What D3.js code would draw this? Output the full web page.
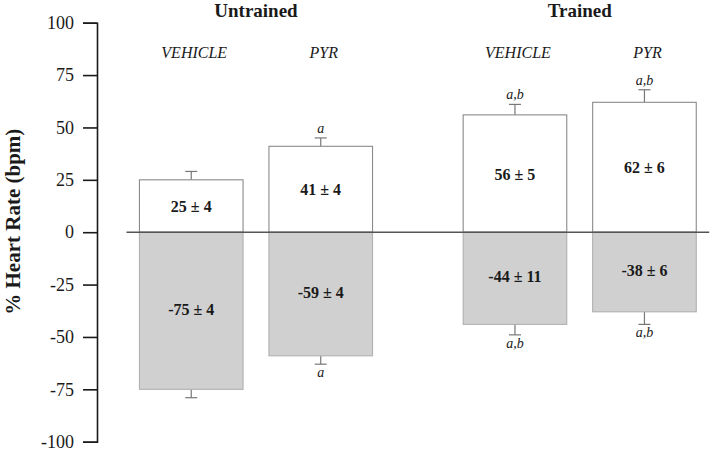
<!DOCTYPE html>
<html>
<head>
<meta charset="utf-8">
<script src="https://cdn.jsdelivr.net/npm/d3@7"></script>
<style>
  body { margin: 0; background: #fff; }
  text { font-family: "Liberation Serif", "Times New Roman", serif; fill: #1a1a1a; }
</style>
</head>
<body>
<div class="chart"></div>
<script>
// groups and treatments
const groups = ['Untrained', 'Trained'];
const treatments = ['VEHICLE', 'PYR'];

// values in the order Untrained VEHICLE, Untrained PYR, Trained VEHICLE, Trained PYR
const upValues = [25, 41, 56, 62];
const upErrors = [4, 4, 5, 6];
const downValues = [-75, -59, -44, -38];
const downErrors = [4, 4, 11, 6];       // as printed in the bar labels
const downErrorBars = [4, 4, 5, 6];     // as drawn by the whiskers
const upSig = ['', 'a', 'a,b', 'a,b'];
const downSig = ['', 'a', 'a,b', 'a,b'];
const yTicks = [100, 75, 50, 25, 0, -25, -50, -75, -100];

const svgWidth = 711, svgHeight = 450;

const svg = d3.select(".chart")
  .append("svg")
  .attr("width", svgWidth)
  .attr("height", svgHeight);

// scales
const yScale = d3.scaleLinear().domain([-100, 100]).range([441.7, 22.7]);
const xGroup = d3.scaleBand().domain(groups).range([126.5, 709.2]).paddingInner(0.2).paddingOuter(0);
const xTreat = d3.scaleBand().domain(treatments).range([0, xGroup.bandwidth()]).paddingInner(0.2).paddingOuter(0.1);

// build rows from the arrays
const rows = [];
groups.forEach((g, gi) => {
  treatments.forEach((t, ti) => {
    const i = gi * 2 + ti;
    rows.push({
      group: g, treat: t,
      up: upValues[i], upErr: upErrors[i],
      down: downValues[i], downErr: downErrors[i], downBar: downErrorBars[i],
      upSig: upSig[i], downSig: downSig[i]
    });
  });
});
const xLeft = d => xGroup(d.group) + xTreat(d.treat);
const xMid = d => xLeft(d) + xTreat.bandwidth() / 2;

// y axis
const leftAxis = d3.axisLeft(yScale)
  .tickValues(yTicks)
  .tickFormat(d => String(d))
  .tickSize(14)
  .tickPadding(9);
const yAxis = svg.append("g")
  .attr("transform", "translate(97,0)")
  .call(leftAxis);
yAxis.select(".domain").attr("stroke", "#1a1a1a").attr("stroke-width", 1.6);
yAxis.selectAll(".tick line").attr("stroke", "#1a1a1a").attr("stroke-width", 1.6);
yAxis.selectAll(".tick text")
  .attr("font-family", "Liberation Serif, serif")
  .attr("font-size", 18)
  .attr("fill", "#1a1a1a");

// y title
svg.append("text")
  .attr("transform", `translate(20, ${yScale(5)}) rotate(-90)`)
  .attr("text-anchor", "middle")
  .attr("font-size", 21)
  .attr("font-weight", "bold")
  .text("% Heart Rate (bpm)");

// error bars (drawn first so bars sit over the stems)
const errGroup = svg.append("g").attr("stroke", "#777").attr("stroke-width", 1.2);
rows.forEach(d => {
  const cx = xMid(d);
  errGroup.append("line")
    .attr("x1", cx).attr("x2", cx)
    .attr("y1", yScale(d.up)).attr("y2", yScale(d.up + d.upErr));
  errGroup.append("line")
    .attr("x1", cx - 6).attr("x2", cx + 6)
    .attr("y1", yScale(d.up + d.upErr)).attr("y2", yScale(d.up + d.upErr));
  errGroup.append("line")
    .attr("x1", cx).attr("x2", cx)
    .attr("y1", yScale(d.down)).attr("y2", yScale(d.down - d.downBar));
  errGroup.append("line")
    .attr("x1", cx - 6).attr("x2", cx + 6)
    .attr("y1", yScale(d.down - d.downBar)).attr("y2", yScale(d.down - d.downBar));
});

// positive bars
svg.append("g").selectAll("rect")
  .data(rows).enter()
  .append("rect")
  .attr("x", xLeft)
  .attr("width", xTreat.bandwidth())
  .attr("y", d => yScale(d.up))
  .attr("height", d => yScale(0) - yScale(d.up))
  .attr("fill", "#fff")
  .attr("stroke", "#8a8a8a")
  .attr("stroke-width", 1.1);

// negative bars
svg.append("g").selectAll("rect")
  .data(rows).enter()
  .append("rect")
  .attr("x", xLeft)
  .attr("width", xTreat.bandwidth())
  .attr("y", yScale(0))
  .attr("height", d => yScale(d.down) - yScale(0))
  .attr("fill", "#d0d0d0")
  .attr("stroke", "#b0b0b0")
  .attr("stroke-width", 1.1);

// zero line
svg.append("line")
  .attr("x1", xGroup.range()[0]).attr("x2", xGroup.range()[1])
  .attr("y1", yScale(0)).attr("y2", yScale(0))
  .attr("stroke", "#555")
  .attr("stroke-width", 1.5);

// value labels
const valGroup = svg.append("g")
  .attr("text-anchor", "middle")
  .attr("font-size", 16)
  .attr("font-weight", "bold");
valGroup.selectAll("text.up")
  .data(rows).enter()
  .append("text")
  .attr("x", xMid)
  .attr("y", d => (yScale(d.up) + yScale(0)) / 2 + 6)
  .text(d => `${d.up} ± ${d.upErr}`);
valGroup.selectAll("text.down")
  .data(rows).enter()
  .append("text")
  .attr("x", xMid)
  .attr("y", d => (yScale(d.down) + yScale(0)) / 2 + 4)
  .text(d => `${d.down} ± ${d.downErr}`);

// significance letters
const sigGroup = svg.append("g")
  .attr("text-anchor", "middle")
  .attr("font-size", 14)
  .attr("font-style", "italic");
sigGroup.selectAll("text.us")
  .data(rows.filter(d => d.upSig)).enter()
  .append("text")
  .attr("x", xMid)
  .attr("y", d => yScale(d.up + d.upErr) - 5)
  .text(d => d.upSig);
sigGroup.selectAll("text.ds")
  .data(rows.filter(d => d.downSig)).enter()
  .append("text")
  .attr("x", xMid)
  .attr("y", d => yScale(d.down - d.downBar) + 13)
  .text(d => d.downSig);

// treatment labels
svg.append("g").selectAll("text")
  .data(rows).enter()
  .append("text")
  .attr("x", d => xMid(d) + 3)
  .attr("y", 58)
  .attr("text-anchor", "middle")
  .attr("font-size", 16)
  .attr("font-style", "italic")
  .text(d => d.treat);

// group titles
svg.append("g").selectAll("text")
  .data(groups).enter()
  .append("text")
  .attr("x", d => xGroup(d) + xGroup.bandwidth() / 2)
  .attr("y", 17)
  .attr("text-anchor", "middle")
  .attr("font-size", 19)
  .attr("font-weight", "bold")
  .text(d => d);
</script>
</body>
</html>
